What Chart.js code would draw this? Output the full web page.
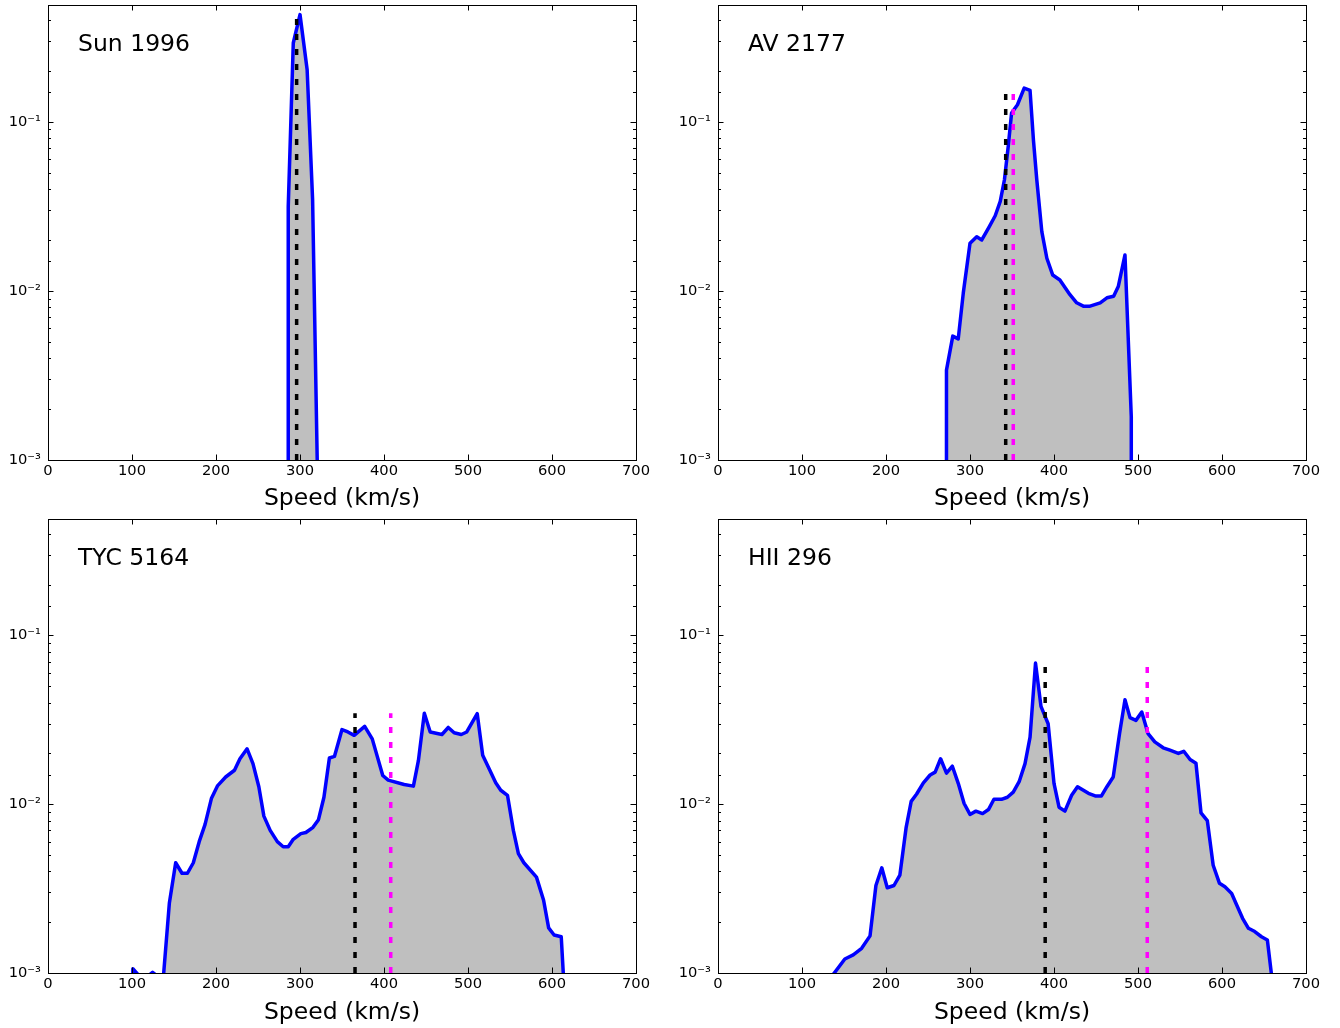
<!DOCTYPE html>
<html>
<head>
<meta charset="utf-8">
<script src="https://cdn.jsdelivr.net/npm/chart.js@4.4.1/dist/chart.umd.min.js"></script>
<style>
  html, body { margin: 0; padding: 0; background: #fff; }
  #wrap { position: relative; width: 1340px; height: 1028px; }
  canvas { position: absolute; }
</style>
</head>
<body>
<div id="wrap">
  <canvas id="c0" width="670" height="514" style="left:0;top:0"></canvas>
  <canvas id="c1" width="670" height="514" style="left:670px;top:0"></canvas>
  <canvas id="c2" width="670" height="514" style="left:0;top:514px"></canvas>
  <canvas id="c3" width="670" height="514" style="left:670px;top:514px"></canvas>
</div>
<script>
// ---------- data ----------
const panelNames = ['Sun 1996', 'AV 2177', 'TYC 5164', 'HII 296'];
const speedTicks = [0, 100, 200, 300, 400, 500, 600, 700];
const yTickValues = [0.001, 0.01, 0.1];
const yTickText = ['10\u207B\u00B3', '10\u207B\u00B2', '10\u207B\u00B9'];
const xTitle = 'Speed (km/s)';

const sunSpeed = [286, 286, 292, 300, 308.5, 315, 323];
const sunFreq  = [1e-5, 0.0315, 0.292, 0.43, 0.203, 0.0346, 0.0002];

const avSpeed = [272, 272, 279.5, 286, 292, 300, 308, 314, 322, 330, 336, 341, 345.5, 349.5, 356.5, 364.5, 371.5, 375.5, 379.5, 385.5, 391.5, 398.5, 407, 419, 427, 435.5, 442, 455, 463, 471, 476.5, 484.5, 492, 492];
const avFreq  = [1e-5, 0.0034, 0.0054, 0.0052, 0.0097, 0.0191, 0.0209, 0.0200, 0.0235, 0.0278, 0.0338, 0.0454, 0.0714, 0.1126, 0.126, 0.158, 0.153, 0.078, 0.0454, 0.0224, 0.0156, 0.0124, 0.0116, 0.0095, 0.0085, 0.0081, 0.0081, 0.0085, 0.0091, 0.0093, 0.0106, 0.0163, 0.0018, 1e-5];

const tycSpeed = [100, 101, 109.5, 117, 124.5, 131, 137, 144.5, 152, 159.5, 166, 173, 180, 187, 194.5, 202, 211.5, 222, 228.5, 237, 244, 251, 257, 264.5, 273, 280, 286, 292, 301, 307, 315.5, 322, 328.5, 335, 341, 350, 357, 364.5, 377, 386, 398.5, 405, 424, 435, 441, 448, 455, 469, 476.5, 483.5, 492, 498.5, 511, 517.5, 526, 533, 539, 547, 554, 560, 566.5, 581.5, 590, 596, 602.5, 611, 614.5];
const tycFreq  = [1e-5, 0.00106, 0.00095, 0.00094, 0.00101, 0.00095, 0.0009, 0.0026, 0.0045, 0.0039, 0.0039, 0.0045, 0.0060, 0.0076, 0.0108, 0.0129, 0.0145, 0.0159, 0.0186, 0.0213, 0.0174, 0.0127, 0.0085, 0.0070, 0.0060, 0.0056, 0.0056, 0.0062, 0.0067, 0.0068, 0.0073, 0.0081, 0.0110, 0.0188, 0.0192, 0.0277, 0.0268, 0.0256, 0.0289, 0.0244, 0.0148, 0.0139, 0.0131, 0.0128, 0.0182, 0.0346, 0.0268, 0.0259, 0.0285, 0.0265, 0.0259, 0.0268, 0.0344, 0.0195, 0.0159, 0.0134, 0.0121, 0.0113, 0.0070, 0.0051, 0.0045, 0.0037, 0.0027, 0.00185, 0.00168, 0.00164, 0.0008];

const hiiSpeed = [130, 151, 161, 171, 181, 188, 195, 201.5, 209.5, 216.5, 224, 230, 236.5, 244.5, 252.5, 258.5, 265, 272, 279, 286, 293, 300, 307, 315, 322, 328.5, 337.5, 344.5, 351.5, 358.5, 365.5, 371.5, 378, 384.5, 393, 400, 406, 413, 421, 428, 441, 449, 456.5, 463, 470.5, 478, 484.5, 490.5, 497.5, 504.5, 512, 520, 530, 538, 548, 554.5, 562, 569, 575, 582.5, 589.5, 597, 603.5, 611.5, 617.5, 624.5, 631.5, 639, 647, 654, 661];
const hiiFreq  = [0.00088, 0.00121, 0.00128, 0.0014, 0.00166, 0.0033, 0.0042, 0.0032, 0.0033, 0.0038, 0.0073, 0.0104, 0.0115, 0.0134, 0.0149, 0.0155, 0.0186, 0.0153, 0.0168, 0.0133, 0.0101, 0.0087, 0.0091, 0.0088, 0.0093, 0.0107, 0.0107, 0.0110, 0.0118, 0.0136, 0.0174, 0.025, 0.0686, 0.038, 0.030, 0.0133, 0.0096, 0.0091, 0.0113, 0.0127, 0.0116, 0.0112, 0.0112, 0.0127, 0.0145, 0.0262, 0.0416, 0.0326, 0.0314, 0.0352, 0.0262, 0.0234, 0.0216, 0.0209, 0.020, 0.0206, 0.0184, 0.0175, 0.0089, 0.0080, 0.00435, 0.0034, 0.00324, 0.00296, 0.00253, 0.00211, 0.00184, 0.00176, 0.00164, 0.00157, 0.0008];

const blackMarks   = [296, 342.5, 365.5, 389.5];
const magentaMarks = [null, 351.5, 408, 511];

const yMin = 0.001, yMax = 0.49;
const xMin = 0, xMax = 700;

// ---------- drawing ----------
const FONT = 'DejaVu Sans';

const boxTicks = {
  id: 'boxTicks',
  afterDatasetsDraw(chart, args, opts) {
    const { ctx, chartArea: a, scales: { x, y } } = chart;
    ctx.save();
    ctx.strokeStyle = '#000';
    ctx.lineWidth = 1;
    const seg = (x1, y1, x2, y2) => { ctx.beginPath(); ctx.moveTo(x1, y1); ctx.lineTo(x2, y2); ctx.stroke(); };
    x.ticks.forEach(t => {
      const px = Math.round(x.getPixelForValue(t.value)) + 0.5;
      seg(px, a.bottom, px, a.bottom - 5.5);
      seg(px, a.top, px, a.top + 5.5);
    });
    y.ticks.forEach(t => {
      const e = Math.log10(t.value);
      const major = Math.abs(e - Math.round(e)) < 1e-6;
      const len = major ? 5.5 : 3;
      const py = Math.round(y.getPixelForValue(t.value)) + 0.5;
      seg(a.left, py, a.left + len, py);
      seg(a.right, py, a.right - len, py);
    });
    ctx.strokeRect(Math.round(a.left) + 0.5, Math.round(a.top) + 0.5, Math.round(a.width), Math.round(a.height));
    ctx.fillStyle = '#000';
    ctx.font = '23.5px "' + FONT + '"';
    ctx.textBaseline = 'alphabetic';
    ctx.textAlign = 'left';
    ctx.fillText(opts.name, a.left + 30, a.top + 45.7);
    ctx.restore();
  }
};

function zeroPad(s) {
  s.paddingTop = 0; s.paddingBottom = 0; s.paddingLeft = 0; s.paddingRight = 0;
}

function makePanel(idx, speed, freq, xh) {
  const peak = Math.max(...freq);
  const datasets = [{
    data: speed.map((s, i) => ({ x: s, y: freq[i] })),
    borderColor: '#0000ff',
    backgroundColor: '#bfbfbf',
    fill: 'start',
    borderWidth: 3.5,
    borderJoinStyle: 'round',
    pointRadius: 0,
    tension: 0,
    order: 2
  }, {
    data: [{ x: blackMarks[idx], y: yMin }, { x: blackMarks[idx], y: peak }],
    borderColor: '#000000',
    borderWidth: 3.5,
    borderDash: [6, 9],
    borderCapStyle: 'butt',
    pointRadius: 0,
    fill: false,
    order: 1
  }];
  if (magentaMarks[idx] !== null) {
    datasets.push({
      data: [{ x: magentaMarks[idx], y: yMin }, { x: magentaMarks[idx], y: peak }],
      borderColor: '#ff00ff',
      borderWidth: 3.5,
      borderDash: [6, 9],
      borderCapStyle: 'butt',
      pointRadius: 0,
      fill: false,
      order: 0
    });
  }
  new Chart(document.getElementById('c' + idx), {
    type: 'line',
    data: { datasets },
    plugins: [boxTicks],
    options: {
      responsive: false,
      animation: false,
      events: [],
      layout: { padding: { top: 5, right: 34, left: 0, bottom: 0 } },
      plugins: {
        legend: { display: false },
        tooltip: { enabled: false },
        boxTicks: { name: panelNames[idx] }
      },
      scales: {
        x: {
          type: 'linear', min: xMin, max: xMax,
          afterBuildTicks(s) { s.ticks = speedTicks.map(v => ({ value: v })); },
          ticks: { padding: 2, color: '#000', maxRotation: 0, autoSkip: false,
                   font: { family: FONT, size: 14.7 } },
          grid: { display: false, drawTicks: false },
          border: { display: false },
          title: { display: true, text: xTitle, color: '#000',
                   font: { family: FONT, size: 23.5 }, padding: { top: 0, bottom: 1 } },
          afterFit(s) { s.height = xh; zeroPad(s); }
        },
        y: {
          type: 'logarithmic', min: yMin, max: yMax,
          ticks: {
            autoSkip: false, padding: 7, color: '#000',
            font: { family: FONT, size: 14.7 },
            callback(v) {
              for (let i = 0; i < yTickValues.length; i++) {
                if (Math.abs(Math.log10(v) - Math.log10(yTickValues[i])) < 1e-6) return yTickText[i];
              }
              return '';
            }
          },
          grid: { display: false, drawTicks: false },
          border: { display: false },
          afterFit(s) { s.width = 48; zeroPad(s); }
        }
      }
    }
  });
}

makePanel(0, sunSpeed, sunFreq, 54);
makePanel(1, avSpeed, avFreq, 54);
makePanel(2, tycSpeed, tycFreq, 55);
makePanel(3, hiiSpeed, hiiFreq, 55);
</script>
</body>
</html>
